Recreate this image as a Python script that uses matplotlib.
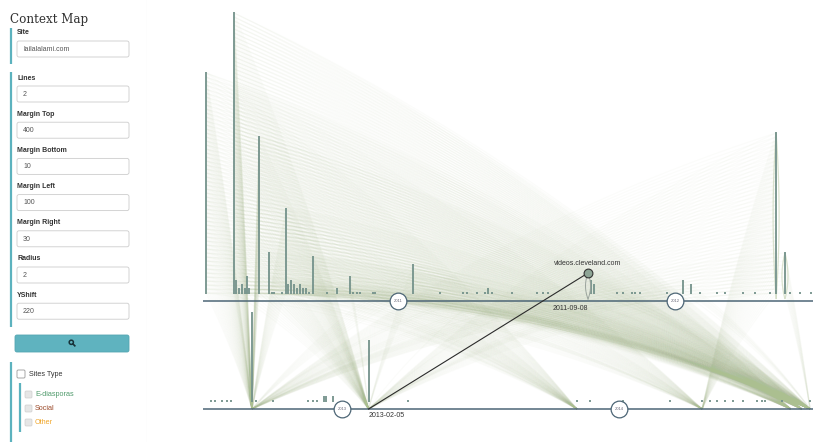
import numpy as np
import matplotlib
matplotlib.use("Agg")
import matplotlib.pyplot as plt
from matplotlib.collections import LineCollection
from matplotlib.patches import FancyBboxPatch, Circle
from matplotlib.lines import Line2D

# ---------------- data ----------------
TIMELINE_START = 2010.296      # decimal year at left end of first row
LINE_SPAN = 2.2022             # years covered by one row
YSHIFT = 27                    # vertical offset between rows (node units)

# top row: visit dates (decimal years) and stacked node counts
top_dates = [2010.307, 2010.408, 2010.415, 2010.426, 2010.437, 2010.448, 2010.455, 2010.462,
             2010.498, 2010.534, 2010.545, 2010.552, 2010.581, 2010.596, 2010.603, 2010.614,
             2010.625, 2010.635, 2010.646, 2010.657, 2010.668, 2010.679, 2010.693, 2010.744,
             2010.780, 2010.827, 2010.838, 2010.852, 2010.863, 2010.910, 2010.917, 2011.054,
             2011.152, 2011.235, 2011.249, 2011.285, 2011.314, 2011.325, 2011.339, 2011.412,
             2011.502, 2011.523, 2011.541, 2011.697, 2011.708, 2011.791, 2011.812, 2011.845,
             2011.856, 2011.874, 2011.971, 2012.029, 2012.058, 2012.090, 2012.152, 2012.180,
             2012.245, 2012.289, 2012.343, 2012.365, 2012.397, 2012.415, 2012.451, 2012.491]
top_counts = [56, 71, 4, 2, 3, 2, 5, 2,
              40, 11, 1, 1, 1, 22, 3, 4,
              3, 2, 3, 2, 2, 1, 10, 1,
              2, 5, 1, 1, 1, 1, 1, 8,
              1, 1, 1, 1, 1, 2, 1, 1,
              1, 1, 1, 4, 3, 1, 1, 1,
              1, 1, 1, 4, 3, 1, 1, 1,
              1, 1, 1, 41, 11, 1, 1, 1]

# bottom row
bottom_dates = [2012.527, 2012.541, 2012.567, 2012.585, 2012.599, 2012.675, 2012.690, 2012.751,
                2012.877, 2012.895, 2012.910, 2012.935, 2012.942, 2012.968, 2013.096, 2013.238,
                2013.848, 2013.895, 2014.014, 2014.184, 2014.300, 2014.329, 2014.354, 2014.383,
                2014.412, 2014.448, 2014.498, 2014.516, 2014.527, 2014.588, 2014.690]
bottom_counts = [1, 1, 1, 1, 1, 23, 1, 1,
                 1, 1, 1, 2, 2, 2, 16, 1,
                 1, 1, 1, 1, 1, 1, 1, 1,
                 1, 1, 1, 1, 1, 1, 1]

# link groups: every node of the listed top-row columns links to one bottom-row date
link_targets = [2014.690, 2014.660, 2014.620, 2012.675, 2013.096, 2013.848, 2014.300]
link_sources = [
    [2010.307, 2010.408, 2010.415, 2010.426, 2010.437, 2010.448, 2010.455, 2010.462, 2010.498,
     2010.534, 2010.596, 2010.603, 2010.614, 2010.625, 2010.635, 2010.646, 2010.657, 2010.668,
     2010.693, 2010.780, 2010.827, 2010.838, 2011.054, 2011.314, 2011.325, 2011.541,
     2011.697, 2012.029, 2012.058, 2012.397],
    [2010.408, 2010.498, 2010.596, 2010.693, 2010.780, 2010.827, 2011.054, 2011.325,
     2011.708],
    [2010.307, 2010.408, 2010.455, 2010.534, 2010.614, 2010.646, 2011.054, 2011.339],
    [2010.307, 2010.408, 2010.498, 2010.596, 2011.054, 2011.325, 2012.365, 2012.397,
     2011.697, 2012.029],
    [2010.408, 2010.498, 2010.534, 2010.693, 2010.827, 2011.054, 2011.314, 2012.365,
     2012.029, 2012.058, 2011.541],
    [2010.307, 2010.455, 2010.596, 2010.614, 2010.693, 2010.426],
    [2010.307, 2010.603, 2010.625, 2010.827, 2011.054, 2012.365],
]

# self loops (date, top level) on the top row
loop_dates = [2012.365, 2012.397]
loop_levels = [42, 12]

years_top = [2011, 2012]
years_bottom = [2013, 2014]

sel_site = "videos.cleveland.com"
sel_src_date, sel_src_label, sel_src_level = 2011.686, "2011-09-08", 7
sel_dst_date, sel_dst_label = 2013.096, "2013-02-05"

form_labels = ["Lines", "Margin Top", "Margin Bottom", "Margin Left", "Margin Right", "Radius", "YShift"]
form_values = ["2", "400", "10", "100", "30", "2", "220"]
site_value = "lailalalami.com"
type_labels = ["E-diasporas", "Social", "Other"]
type_colors = ["#4f9a6b", "#9c4b2b", "#f0a62a"]

# ---------------- helpers ----------------
def place(year):
    row = int((year - TIMELINE_START) // LINE_SPAN)
    return year - TIMELINE_START - row * LINE_SPAN, -row * YSHIFT

SANS = ["Liberation Sans", "DejaVu Sans"]
fig = plt.figure(figsize=(8.13, 4.42), dpi=100)
fig.patch.set_facecolor("white")

# ---------------- main chart ----------------
ax = fig.add_axes([203 / 813, 0, 610 / 813, 1])
ax.set_xlim(0, LINE_SPAN)
ax.set_ylim(-35.25, 75.25)
ax.axis("off")

LINK_C = "#abbf90"
SPIKE_C = "#74928b"
AXIS_C = "#4d6676"

tt = np.linspace(0, 1, 28)[:, None]

def arc(p0, p1, bow=0.1):
    a = ax.transData.transform(p0)
    b = ax.transData.transform(p1)
    if a[0] > b[0]:
        a, b = b, a
    d = b - a
    k = bow * abs(d[0]) / max(np.hypot(*d), 1e-9)
    c = (a + b) / 2 + k * np.array([-d[1], d[0]])
    pts = (1 - tt) ** 2 * a + 2 * tt * (1 - tt) * c + tt ** 2 * b
    return ax.transData.inverted().transform(pts)

# links
segs = []
for tgt, srcs in zip(link_targets, link_sources):
    tx, ty = place(tgt)
    for s in srcs:
        cnt = top_counts[top_dates.index(s)]
        sx, sy = place(s)
        for lvl in range(2, cnt + 2):
            segs.append(arc((sx, lvl), (tx, ty)))
ax.add_collection(LineCollection(segs, colors=LINK_C, linewidths=0.8, alpha=0.045, zorder=1))

# self loops (lens shapes)
loop_segs = []
for dte, lv in zip(loop_dates, loop_levels):
    x0, y0 = place(dte)
    for side in (-1, 1):
        a = ax.transData.transform((x0, lv))
        b = ax.transData.transform((x0, y0 + 0.5))
        c = (a + b) / 2 + np.array([side * 6, 0])
        pts = (1 - tt) ** 2 * a + 2 * tt * (1 - tt) * c + tt ** 2 * b
        loop_segs.append(ax.transData.inverted().transform(pts))
ax.add_collection(LineCollection(loop_segs, colors="#c3d1b0", linewidths=0.9, alpha=0.6, zorder=1))

# baselines
for r in range(2):
    ax.plot([0, LINE_SPAN], [-r * YSHIFT] * 2, color=AXIS_C, lw=1.1, zorder=3, solid_capstyle="butt")

# columns
for dates, counts in ((top_dates, top_counts), (bottom_dates, bottom_counts)):
    for dte, cnt in zip(dates, counts):
        x0, y0 = place(dte)
        ax.vlines(x0, y0 + 1.75, y0 + cnt + 1.3, color=SPIKE_C, lw=1.3, zorder=4)

# year markers
for yr in years_top + years_bottom:
    x0, y0 = place(yr)
    ax.scatter([x0], [y0], s=145, facecolor="white", edgecolor=AXIS_C, linewidth=0.9, zorder=5)
    ax.text(x0, y0, str(yr), fontsize=3.0, color="#667", ha="center", va="center",
            family=SANS, zorder=6)

# selected link
sx, sy = place(sel_src_date)
tx, ty = place(sel_dst_date)
for side in (-1, 1):
    a = ax.transData.transform((sx, sel_src_level))
    b = ax.transData.transform((sx, 0.5))
    c = (a + b) / 2 + np.array([side * 5, 0])
    pts = (1 - tt) ** 2 * a + 2 * tt * (1 - tt) * c + tt ** 2 * b
    p = ax.transData.inverted().transform(pts)
    ax.plot(p[:, 0], p[:, 1], color="#9aa39d", lw=0.7, zorder=4)
ax.plot([sx, tx], [sel_src_level, ty], color="#2b2b2b", lw=0.8, zorder=6)
ax.scatter([sx], [sel_src_level], s=40, facecolor="#8ea596", edgecolor="#333333",
           linewidth=0.8, zorder=7)
ax.text(sx, sel_src_level + 1.4, sel_site, fontsize=5, color="#333", ha="center",
        va="bottom", family=SANS, zorder=7)
ax.text(sx, sy - 0.9, sel_src_label, fontsize=5, color="#333", ha="right", va="top",
        family=SANS, zorder=7)
ax.text(tx, ty - 0.8, sel_dst_label, fontsize=5, color="#333", ha="left", va="top",
        family=SANS, zorder=7)

# ---------------- side panel ----------------
axp = fig.add_axes([0, 0, 147 / 813, 1])
axp.set_xlim(0, 147)
axp.set_ylim(442, 0)
axp.axis("off")

TEAL = "#5cb2be"
axp.plot([146.5, 146.5], [0, 442], color="#e9e9e9", lw=0.8)
axp.text(10, 22.5, "Context Map", family=["DejaVu Serif"], fontsize=8.6, color="#333",
         va="baseline", ha="left")

def field(label, value, ly):
    axp.text(17, ly, label, fontsize=5, fontweight="bold", color="#333", va="center",
             ha="left", family=SANS)
    top = ly + 8
    axp.add_patch(FancyBboxPatch((17, top), 112, 16, boxstyle="round,pad=0,rounding_size=2",
                                 fc="white", ec="#cccccc", lw=0.6))
    axp.text(23, top + 8.3, value, fontsize=5, color="#555", va="center", ha="left",
             family=SANS)

axp.plot([11, 11], [28, 64], color=TEAL, lw=1.6, solid_capstyle="butt")
field("Site", site_value, 33)

axp.plot([11, 11], [72, 327], color=TEAL, lw=1.6, solid_capstyle="butt")
for i, (lab, val) in enumerate(zip(form_labels, form_values)):
    field(lab, val, 78 + 36.2 * i)

axp.add_patch(FancyBboxPatch((15, 335), 114, 17, boxstyle="round,pad=0,rounding_size=2",
                             fc="#5fb3bf", ec="#54a6b2", lw=0.6))
axp.add_patch(Circle((71.3, 342.3), 2.1, fill=False, ec="#173238", lw=1.1))
axp.add_line(Line2D([72.9, 74.8], [343.9, 345.8], color="#173238", lw=1.2))

axp.plot([11, 11], [362, 442], color=TEAL, lw=1.6, solid_capstyle="butt")
axp.add_patch(FancyBboxPatch((17, 370), 8, 8, boxstyle="round,pad=0,rounding_size=1.2",
                             fc="white", ec="#9a9a9a", lw=0.6))
axp.text(28.5, 374, "Sites Type", fontsize=5.2, color="#333", va="center", ha="left",
         family=SANS)
axp.plot([20, 20], [383, 432], color=TEAL, lw=1.6, solid_capstyle="butt")
for i, (lab, col) in enumerate(zip(type_labels, type_colors)):
    yy = 394.5 + 14 * i
    axp.add_patch(FancyBboxPatch((25, yy - 3.5), 7, 7, boxstyle="round,pad=0,rounding_size=1.2",
                                 fc="#e6e6e6", ec="#cfcfcf", lw=0.5))
    axp.text(35, yy, lab, fontsize=5.2, color=col, va="center", ha="left", family=SANS)

fig.savefig("out.png", dpi=100, facecolor="white")
